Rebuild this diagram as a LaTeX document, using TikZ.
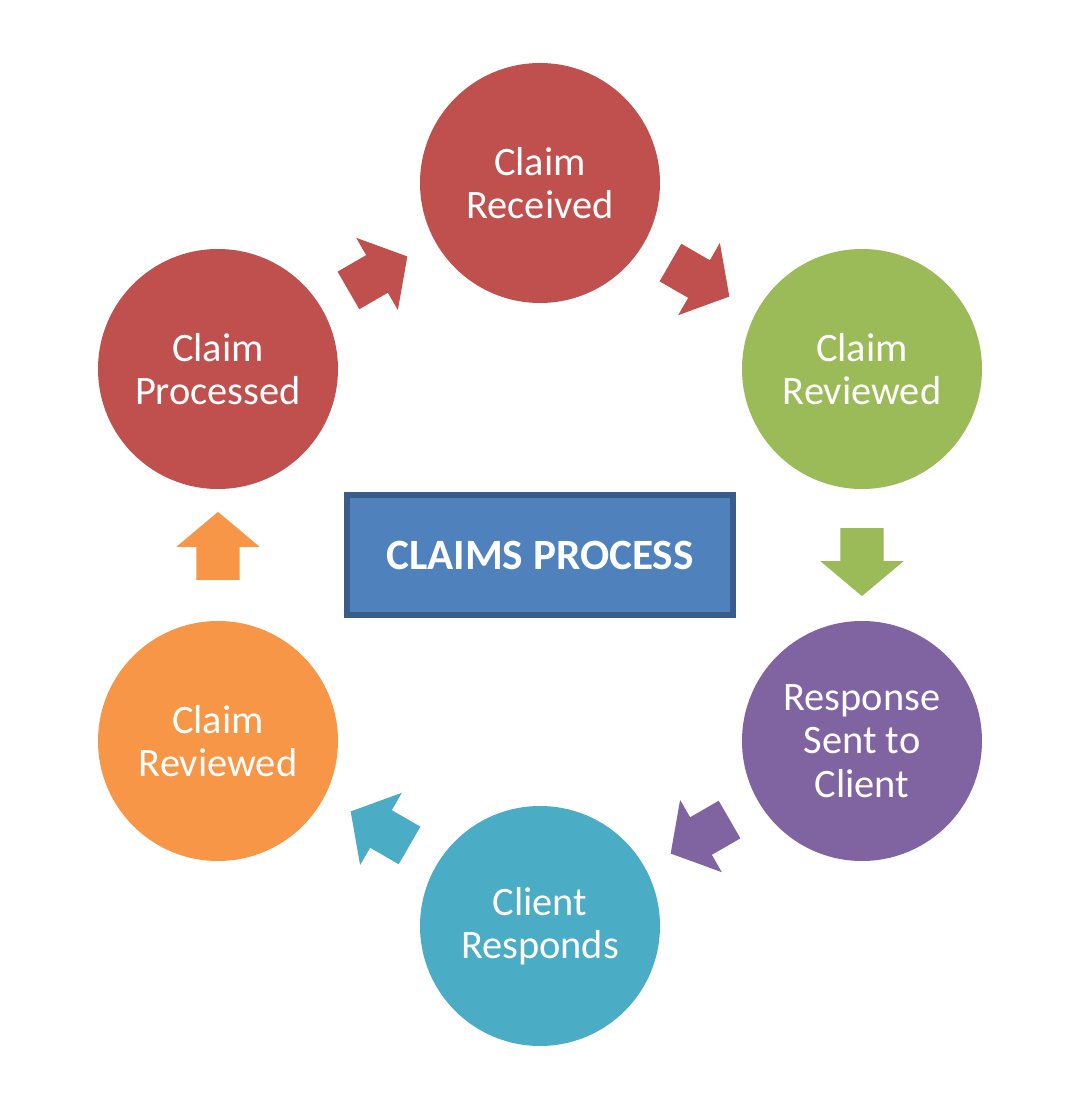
\documentclass[tikz,border=0pt]{standalone}
\usepackage{fontspec}
\setmainfont{Carlito}
\usetikzlibrary{shapes.arrows}
\definecolor{cRed}{HTML}{C0504D}
\definecolor{cGreen}{HTML}{9BBB59}
\definecolor{cPurple}{HTML}{8064A2}
\definecolor{cTeal}{HTML}{4BACC6}
\definecolor{cOrange}{HTML}{F79646}
\definecolor{cBlue}{HTML}{4F81BD}
\definecolor{cBlueEdge}{HTML}{385D8A}
\tikzset{
  stage/.style={circle, minimum size=2.4cm, inner sep=0pt, text=white, align=center,
    font=\fontsize{11.5}{12.3}\selectfont},
  flow/.style={single arrow, minimum height=0.68cm, minimum width=0.82cm, inner sep=0.21cm,
    single arrow head extend=0.2cm, single arrow tip angle=100, single arrow head indent=0pt}
}
\begin{document}
\begin{tikzpicture}
\useasboundingbox[fill=white] (0,0) rectangle (10.84,10.96);

\node[stage, fill=cRed] (received) at (5.40,9.13) {Claim\\Received};
\node[stage, fill=cGreen] (reviewed) at (8.62,7.27) {Claim\\Reviewed};
\node[stage, fill=cPurple] (response) at (8.62,3.55) {Response\\Sent to\\Client};
\node[stage, fill=cTeal] (responds) at (5.40,1.70) {Client\\Responds};
\node[stage, fill=cOrange] (recheck) at (2.18,3.55) {Claim\\Reviewed};
\node[stage, fill=cRed] (processed) at (2.18,7.27) {Claim\\Processed};

\node[draw=cBlueEdge, line width=1.5pt, fill=cBlue, minimum width=3.86cm, minimum height=1.2cm,
  text=white, font=\fontsize{12.3}{14}\selectfont\bfseries] (title) at (5.40,5.41) {CLAIMS PROCESS};

% arrows between the stages
\node[flow, fill=cRed, rotate=30] (a1) at (3.70,8.18) {};
\node[flow, fill=cRed, rotate=-30] (a2) at (6.92,8.21) {};
\node[flow, fill=cGreen, rotate=-90] (a3) at (8.62,5.43) {};
\node[flow, fill=cPurple, rotate=-150] (a4) at (7.08,2.64) {};
\node[flow, fill=cTeal, rotate=150] (a5) at (3.88,2.63) {};
\node[flow, fill=cOrange, rotate=90] (a6) at (2.18,5.41) {};
\end{tikzpicture}
\end{document}
